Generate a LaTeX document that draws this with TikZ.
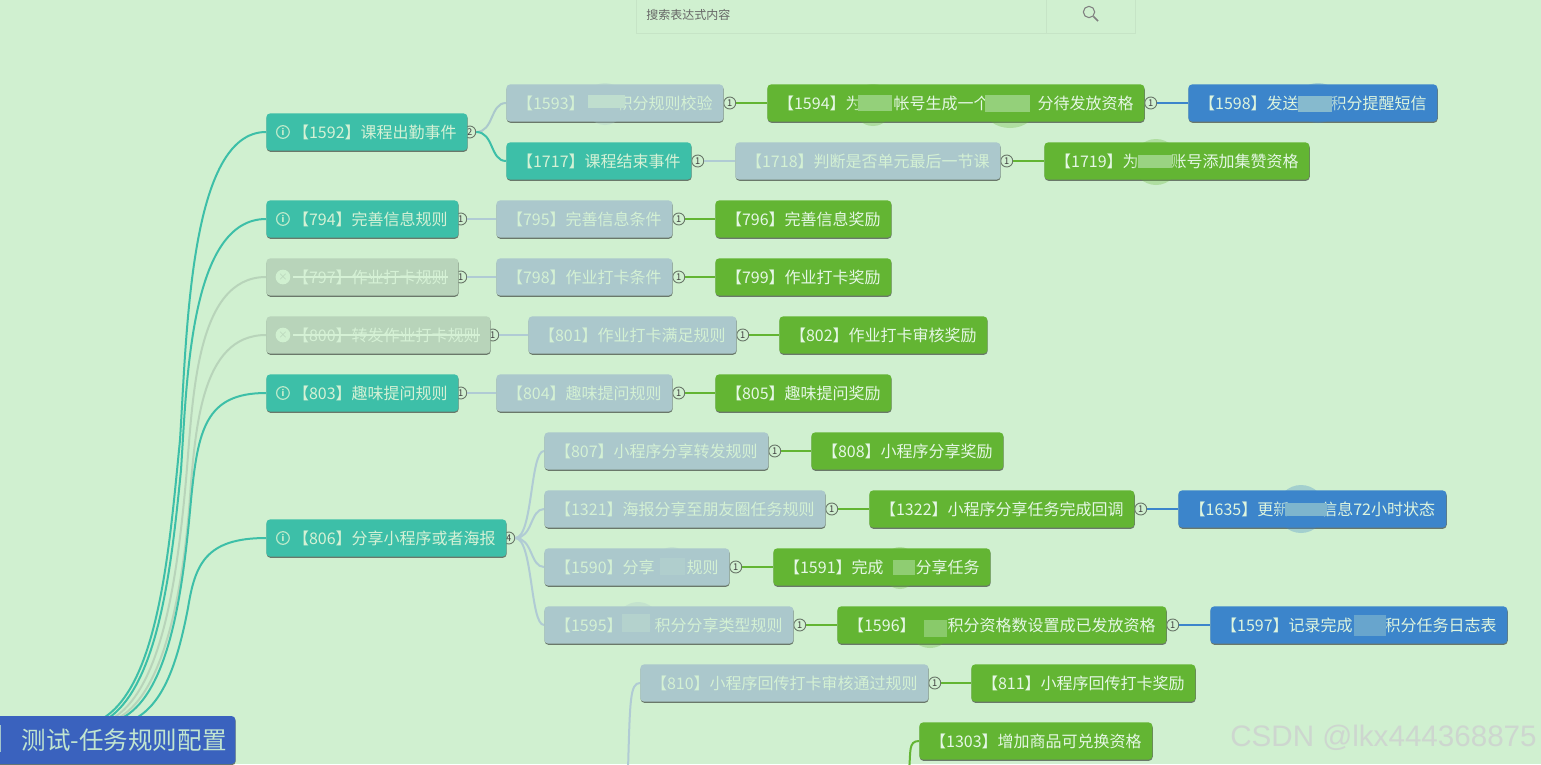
\documentclass[tikz,border=0pt]{standalone}
\usepackage{fontspec}
\setmainfont{Noto Sans CJK SC}
\newfontfamily\markfont{Liberation Sans}
\usetikzlibrary{backgrounds,shadows}

\definecolor{pagegreen}{HTML}{D0F0D0}
\definecolor{evtteal}{HTML}{3DBFA8}
\definecolor{condgray}{HTML}{ABC8CC}
\definecolor{awardgreen}{HTML}{63B533}
\definecolor{logblue}{HTML}{3C85CB}
\definecolor{rootblue}{HTML}{3A62BE}
\definecolor{offgreen}{HTML}{B8D4BA}
\definecolor{linegray}{HTML}{B0CBD4}
\definecolor{edgegray}{HTML}{6A786A}
\definecolor{boxline}{HTML}{C6E4C6}
\definecolor{markgray}{HTML}{CDD6CF}

\newcommand{\blurgap}[1]{\hspace*{#1em}}

\tikzset{
  mapnode/.style={rectangle,rounded corners=3pt,inner sep=0pt,minimum height=28pt,anchor=west,
    general shadow={shadow xshift=0.2pt,shadow yshift=-0.9pt,fill=edgegray}},
  evtnode/.style={mapnode,fill=evtteal,text=pagegreen!90!white},
  condnode/.style={mapnode,fill=condgray,text=pagegreen!92!white},
  awardnode/.style={mapnode,fill=awardgreen,text=pagegreen!55!white},
  lognode/.style={mapnode,fill=logblue,text=pagegreen!70!white},
  offnode/.style={mapnode,fill=offgreen,text=pagegreen!90!white},
  countdot/.style={circle,draw=edgegray,line width=0.7pt,fill=pagegreen,minimum size=9pt,inner sep=0pt,
    text=black!75,font=\fontsize{7}{7}\selectfont},
  infodot/.style={circle,draw=pagegreen!85!evtteal,line width=0.9pt,minimum size=9.5pt,inner sep=0pt,
    text=pagegreen,font=\fontsize{6.5}{6.5}\selectfont\bfseries},
  offdot/.style={circle,fill=pagegreen,minimum size=11pt,inner sep=0pt,
    text=offgreen,font=\fontsize{7}{7}\selectfont},
  link/.style={line width=1.5pt},
  smudge/.style={fill opacity=0.3},
}

\begin{document}
\begin{tikzpicture}[x=0.75pt,y=-0.75pt,font=\fontsize{12}{14}\selectfont]
  \useasboundingbox (0,0) rectangle (1541,764);

  % Mind map boxes
  \foreach \nid/\xl/\nw/\yc/\kind/\txt in {
    1592/266/202/132/evtnode/{\blurgap{1}【1592】课程出勤事件},
    794/266/193/219/evtnode/{\blurgap{1}【794】完善信息规则},
    797/266/193/277/offnode/{\blurgap{1}【797】作业打卡规则},
    800/266/225/335/offnode/{\blurgap{1}【800】转发作业打卡规则},
    803/266/193/393/evtnode/{\blurgap{1}【803】趣味提问规则},
    806/266/241/538/evtnode/{\blurgap{1}【806】分享小程序或者海报},
    1717/506/186/161/evtnode/{【1717】课程结束事件},
    1593/506/218/103/condnode/{【1593】\blurgap{2}积分规则校验},
    1718/735/266/161/condnode/{【1718】判断是否单元最后一节课},
    795/496/177/219/condnode/{【795】完善信息条件},
    798/496/177/277/condnode/{【798】作业打卡条件},
    801/528/209/335/condnode/{【801】作业打卡满足规则},
    804/496/177/393/condnode/{【804】趣味提问规则},
    807/544/225/451/condnode/{【807】小程序分享转发规则},
    1321/544/282/509/condnode/{【1321】海报分享至朋友圈任务规则},
    1590/544/186/567/condnode/{【1590】分享\blurgap{2}规则},
    1595/544/250/625/condnode/{【1595】\blurgap{2}积分分享类型规则},
    810/640/289/683/condnode/{【810】小程序回传打卡审核通过规则},
    1594/767/378/103/awardnode/{【1594】为\blurgap{2}帐号生成一个\blurgap{3}分待发放资格},
    1719/1044/266/161/awardnode/{【1719】为\blurgap{2}账号添加集赞资格},
    796/715/177/219/awardnode/{【796】完善信息奖励},
    799/715/177/277/awardnode/{【799】作业打卡奖励},
    802/779/209/335/awardnode/{【802】作业打卡审核奖励},
    805/715/177/393/awardnode/{【805】趣味提问奖励},
    808/811/193/451/awardnode/{【808】小程序分享奖励},
    1322/869/266/509/awardnode/{【1322】小程序分享任务完成回调},
    1591/773/218/567/awardnode/{【1591】完成\blurgap{2}分享任务},
    1596/837/330/625/awardnode/{【1596】\blurgap{2}积分资格数设置成已发放资格},
    811/971/225/683/awardnode/{【811】小程序回传打卡奖励},
    1303/919/234/741/awardnode/{【1303】增加商品可兑换资格},
    1598/1188/250/103/lognode/{【1598】发送\blurgap{2}积分提醒短信},
    1635/1178/269/509/lognode/{【1635】更新\blurgap{2}信息72小时状态},
    1597/1210/298/625/lognode/{【1597】记录完成\blurgap{2}积分任务日志表}}
  {
    \node[\kind,minimum width=\nw*0.75pt-0.6pt] (n\nid) at (\xl,\yc) {\txt};
  }

  % Root
  \node[mapnode,fill=rootblue,text=pagegreen!90!logblue,minimum width=191.4pt,minimum height=36pt,
    font=\fontsize{18.4}{20}\selectfont] (root) at (-20,740) {\hspace*{24.5pt}测试-任务规则配置};
  \draw[pagegreen!70!rootblue,line width=1pt] (0.5,725) -- (0.5,752);

  % Icons in front of the first level
  \foreach \nid in {1592,794,803,806} {
    \node[infodot] (i\nid) at ([xshift=12.7pt]n\nid.west) {i};
  }
  \foreach \nid in {797,800} {
    \node[offdot] (i\nid) at ([xshift=12.7pt]n\nid.west) {×};
    \draw[pagegreen!90!white,line width=0.8pt] ([xshift=20.2pt]n\nid.west) -- ([xshift=-8.2pt]n\nid.east);
  }

  % Connectors
  \foreach \nid/\sx in {1592/105,794/110,797/115,800/120,803/124,806/138} {
    \coordinate (s\nid) at (\sx,717);
  }
  \coordinate (offleft) at (628,770);
  \coordinate (offright) at (909,770);
  \begin{scope}[on background layer]
    \fill[pagegreen] (0,0) rectangle (1541,764);

    % Counts, half under the first level
    \foreach \nid/\cnt/\shift in {1592/2/1.5,794/1/1.5,797/1/1.5,800/1/1.5,803/1/1.5,806/4/1.5,
      1717/1/4.5,1593/1/4.5,1718/1/4.5,795/1/4.5,798/1/4.5,801/1/4.5,804/1/4.5,807/1/4.5,1321/1/4.5,
      1590/1/4.5,1595/1/4.5,810/1/4.5,1594/1/4.5,1322/1/4.5,1596/1/4.5} {
      \node[countdot] (c\nid) at ([xshift=\shift pt]n\nid.east) {\cnt};
    }

    \foreach \a/\b/\col in {1717/1718/linegray,794/795/linegray,797/798/linegray,800/801/linegray,803/804/linegray,
      1593/1594/awardgreen,1718/1719/awardgreen,795/796/awardgreen,798/799/awardgreen,801/802/awardgreen,804/805/awardgreen,
      807/808/awardgreen,1321/1322/awardgreen,1590/1591/awardgreen,1595/1596/awardgreen,810/811/awardgreen,
      1594/1598/logblue,1322/1635/logblue,1596/1597/logblue} {
      \draw[link,\col] (c\a.east) -- (n\b.west);
    }

    % First level
    \draw[link,evtteal] (s1592) .. controls (160,680) and (170,540) .. (180,440) .. controls (187,330) and (190,132) .. (n1592.west);
    \draw[link,evtteal] (s794) .. controls (160,680) and (172,560) .. (181,470) .. controls (187,380) and (190,219) .. (n794.west);
    \draw[link,offgreen] (s797) .. controls (162,685) and (177,580) .. (186,480) .. controls (193,400) and (195,277) .. (n797.west);
    \draw[link,offgreen] (s800) .. controls (165,690) and (182,590) .. (189,510) .. controls (195,430) and (200,335) .. (n800.west);
    \draw[link,evtteal] (s803) .. controls (170,690) and (183,590) .. (191,500) .. controls (198,430) and (205,393) .. (n803.west);
    \draw[link,evtteal] (s806) .. controls (165,700) and (178,660) .. (188,608) .. controls (195,565) and (205,538) .. (n806.west);

    % Branches
    \draw[link,condgray] (c1592.east) .. controls (494,132) and (490,103) .. (n1593.west);
    \draw[link,evtteal] (c1592.east) .. controls (494,132) and (490,161) .. (n1717.west);
    \draw[link,linegray] (c806.east) .. controls (533,538) and (530,451) .. (n807.west);
    \draw[link,linegray] (c806.east) .. controls (533,538) and (530,509) .. (n1321.west);
    \draw[link,linegray] (c806.east) .. controls (533,538) and (530,567) .. (n1590.west);
    \draw[link,linegray] (c806.east) .. controls (533,538) and (530,625) .. (n1595.west);
    \draw[link,linegray] (offleft) .. controls (630,700) and (630,683) .. (n810.west);
    \draw[link,awardgreen] (offright) .. controls (911,752) and (908,741) .. (n1303.west);
  \end{scope}

  % Blurred spots
  \foreach \cx/\cy/\rx/\ry/\col in {605/104/20/21/condgray,873/105/20/21/awardgreen,
    1010/108/26/20/awardgreen,1318/103/22/20/logblue,1156/162/23/23/awardgreen,
    1301/509/24/24/logblue,672/565/16/18/condgray,900/568/18/21/awardgreen,
    638/620/20/18/condgray,930/630/20/18/awardgreen,1370/625/18/17/logblue} {
    \fill[smudge,\col] (\cx,\cy) ellipse [x radius=\rx*0.75pt,y radius=\ry*0.75pt];
  }
  \foreach \xa/\ya/\xb/\yb/\col in {588/95/625/108/pagegreen!55!condgray,858/95/892/111/awardgreen!55!pagegreen,
    985/95/1030/112/awardgreen!55!pagegreen,1298/96/1332/112/logblue!50!pagegreen,1138/155/1172/168/awardgreen!50!pagegreen,
    1285/503/1327/516/logblue!55!pagegreen,660/558/685/575/condgray!85!pagegreen,893/560/915/575/awardgreen!60!pagegreen,
    622/614/650/632/condgray!75!pagegreen,924/620/947/637/awardgreen!65!pagegreen,1354/615/1386/636/logblue!70!pagegreen} {
    \fill[\col] (\xa,\ya) rectangle (\xb,\yb);
  }

  % Search bar
  \node[draw=boxline,line width=0.75pt,anchor=north west,minimum width=374.5pt,minimum height=25.5pt,inner sep=0pt] (searchbar) at (636,-1) {};
  \draw[boxline,line width=0.75pt] (1046,0) -- (1046,33);
  \node[anchor=west,inner sep=0pt,text=black!60,font=\fontsize{9}{11}\selectfont] (searchtext) at (646,15) {搜索表达式内容};
  \node[circle,draw=black!50,line width=0.8pt,minimum size=8.5pt,inner sep=0pt] (magglass) at (1089,12) {};
  \coordinate (maghandle) at (1098,21);
  \draw[black!50,line width=1.1pt] (magglass.-45) -- (maghandle);

  % Watermark
  \node[anchor=east,inner sep=0pt,text=markgray,font=\markfont\fontsize{22.2}{24}\selectfont] (watermark) at (1537,738) {CSDN @lkx444368875};
\end{tikzpicture}
\end{document}
